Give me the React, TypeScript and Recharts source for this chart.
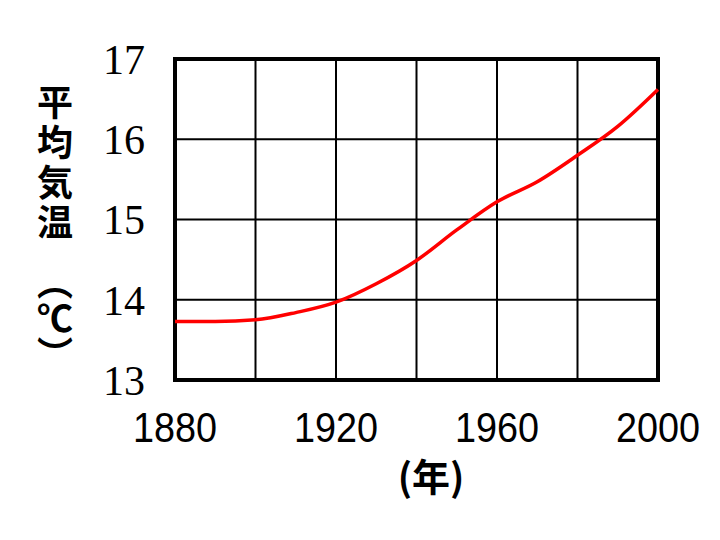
import React from 'react';
import { LineChart, Line, XAxis, YAxis, CartesianGrid, ReferenceArea } from 'recharts';

// yearly mean temperature (°C)
const years = [1880, 1890, 1900, 1910, 1920, 1930, 1940, 1950, 1960, 1970, 1980, 1990, 2000];
const temps = [13.73, 13.73, 13.75, 13.84, 13.97, 14.2, 14.49, 14.87, 15.22, 15.47, 15.8, 16.16, 16.62];

const xTicks = [1880, 1900, 1920, 1940, 1960, 1980, 2000];
const xLabelled = [1880, 1920, 1960, 2000];
const yTicks = [13, 14, 15, 16, 17];

const yTitle = '平均気温';
const yUnit = '（℃）';
const xTitle = '(年)';

const data = years.map((year, i) => ({ year, temp: temps[i] }));

const cjk = '"Noto Sans CJK JP", sans-serif';

// gothic-looking narrow digits under the x axis
const YearTick = (props: any) => {
  const { x, y, payload } = props;
  if (!xLabelled.includes(payload.value)) return null;
  return (
    <text
      x={x}
      y={y}
      dy="0.71em"
      textAnchor="middle"
      fontFamily='"Liberation Sans", sans-serif'
      fontSize={42}
      fill="#000"
      textLength={84}
      lengthAdjust="spacingAndGlyphs"
    >
      {payload.value}
    </text>
  );
};

// vertical title, written top to bottom
const YTitle = () => (
  <g fill="#000" fontFamily={cjk} fontWeight={700} fontSize={36} style={{ writingMode: 'vertical-rl' } as any}>
    <text x={55} y={84} letterSpacing={4} style={{ writingMode: 'vertical-rl' } as any}>{yTitle}</text>
    <text x={55} y={264} style={{ writingMode: 'vertical-rl' } as any}>{yUnit}</text>
  </g>
);

const XTitle = () => (
  <text x={431} y={491} fontFamily={cjk} fontWeight={700} fontSize={38} fill="#000" textAnchor="middle">
    {xTitle}
  </text>
);

const App: React.FC = () => {
  return (
    <div style={{ position: 'absolute', left: 0, top: 0, width: 720, height: 540, background: '#fff' }}>
      <LineChart width={720} height={540} data={data} margin={{ top: 59, right: 62, bottom: 0, left: 0 }}>
        <CartesianGrid stroke="#000" strokeWidth={2} />
        <XAxis
          dataKey="year"
          type="number"
          domain={[1880, 2000]}
          ticks={xTicks}
          height={160}
          axisLine={false}
          tickLine={false}
          tickSize={0}
          tickMargin={32}
          tick={<YearTick />}
          label={{ content: () => <XTitle /> }}
        />
        <YAxis
          type="number"
          domain={[13, 17]}
          ticks={yTicks}
          width={175}
          axisLine={false}
          tickLine={false}
          tickSize={0}
          tickMargin={30}
          tick={{ fill: '#000', fontSize: 42, fontFamily: '"Liberation Serif", serif' }}
          label={{ content: () => <YTitle /> }}
        />
        <ReferenceArea x1={1880} x2={2000} y1={13} y2={17} fill="none" stroke="#000" strokeWidth={4} ifOverflow="visible" />
        <Line
          type="monotone"
          dataKey="temp"
          stroke="#ff0000"
          strokeWidth={3.5}
          dot={false}
          isAnimationActive={false}
        />
      </LineChart>
    </div>
  );
};

export default App;
